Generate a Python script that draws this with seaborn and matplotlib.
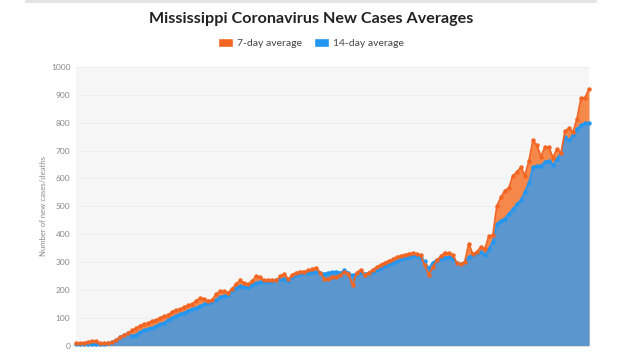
import numpy as np
import pandas as pd
import seaborn as sns
import matplotlib.pyplot as plt
from matplotlib.patches import Patch, Rectangle

# values, one point per day
avg7 = [8, 8, 10, 14, 16, 16, 8, 8, 10, 12,
        20, 30, 38, 45, 55, 62, 72, 78, 80, 88,
        92, 100, 105, 110, 122, 128, 130, 138, 145, 148,
        162, 170, 168, 160, 165, 185, 196, 195, 190, 205,
        222, 234, 225, 220, 232, 250, 245, 234, 236, 237,
        234, 250, 258, 238, 255, 262, 266, 266, 270, 275,
        280, 260, 240, 238, 246, 248, 252, 266, 258, 216,
        262, 272, 254, 262, 272, 282, 290, 298, 304, 310,
        318, 322, 326, 330, 332, 330, 324, 290, 254, 282,
        306, 320, 334, 332, 326, 298, 292, 300, 366, 328,
        336, 354, 346, 392, 396, 500, 532, 556, 566, 610,
        622, 640, 610, 662, 736, 718, 678, 712, 712, 674,
        706, 690, 770, 780, 766, 814, 888, 890, 920]
avg14 = [5, 5, 5, 6, 6, 6, 7, 7, 8, 12,
         20, 30, 38, 44, 35, 40, 48, 55, 60, 65,
         70, 76, 82, 92, 100, 108, 112, 118, 126, 130,
         136, 142, 148, 152, 156, 165, 174, 178, 182, 196,
         206, 214, 212, 210, 218, 226, 228, 228, 230, 232,
         236, 240, 240, 232, 246, 252, 258, 260, 262, 264,
         266, 262, 258, 262, 264, 266, 262, 270, 262, 252,
         258, 264, 258, 260, 264, 272, 278, 286, 292, 296,
         304, 310, 314, 318, 320, 320, 314, 302, 278, 298,
         308, 312, 316, 318, 312, 296, 292, 300, 318, 326,
         332, 336, 326, 348, 372, 436, 448, 456, 474, 490,
         508, 522, 552, 584, 640, 646, 646, 658, 664, 648,
         670, 690, 748, 738, 754, 778, 790, 798, 800]
yticks = list(range(0, 1001, 100))

df = pd.DataFrame({"day": np.arange(len(avg7)), "avg7": avg7, "avg14": avg14})

sns.set_style("white", {"axes.facecolor": "#f6f6f6"})
plt.rcParams["font.family"] = ["Lato", "DejaVu Sans"]

orange = "#f26522"
blue = "#2196f3"

fig = plt.figure(figsize=(6.22, 3.52), dpi=100)
ax = fig.add_axes([0.122, 0.018, 0.825, 0.792])

ax.fill_between(df["day"], 0, df["avg7"], color="#f7884c", lw=0, zorder=1)
ax.fill_between(df["day"], 0, df["avg14"], color="#5b96cf", lw=0, zorder=2)
sns.lineplot(data=df, x="day", y="avg7", ax=ax, color=orange, lw=1.3,
             marker="o", markersize=3.2, markeredgewidth=0, zorder=4)
sns.lineplot(data=df, x="day", y="avg14", ax=ax, color=blue, lw=1.3,
             marker="o", markersize=3.2, markeredgewidth=0, zorder=3)
for ln in ax.lines:
    ln.set_clip_on(False)

ax.set_xlim(0, len(avg7) - 1)
ax.set_ylim(0, 1000)
ax.set_yticks(yticks)
ax.set_yticklabels([str(t) for t in yticks], fontsize=6, color="#888888")
ax.set_xticks([])
ax.set_xlabel("")
ax.set_ylabel("Number of new cases/deaths", fontsize=5.6, color="#888888", labelpad=3)
ax.tick_params(axis="y", length=0, pad=4)
ax.grid(axis="y", color="#ececec", lw=0.6)
ax.set_axisbelow(True)
sns.despine(ax=ax, left=True, bottom=True, top=True, right=True)

fig.text(0.5, 0.945, "Mississippi Coronavirus New Cases Averages", ha="center",
         va="center", fontsize=11.6, fontweight="bold", color="#222222")

handles = [Patch(facecolor=orange, label="7-day average"),
           Patch(facecolor=blue, label="14-day average")]
fig.legend(handles=handles, loc="center", bbox_to_anchor=(0.5, 0.877), ncol=2,
           frameon=False, fontsize=7.5, handlelength=1.4, handleheight=0.9,
           handletextpad=0.4, columnspacing=1.2, labelcolor="#444444")

fig.patches.append(Rectangle((0.04, 0.992), 0.92, 0.008, transform=fig.transFigure,
                             facecolor="#e4e4e4", edgecolor="none"))

fig.savefig("out.png", dpi=100)
